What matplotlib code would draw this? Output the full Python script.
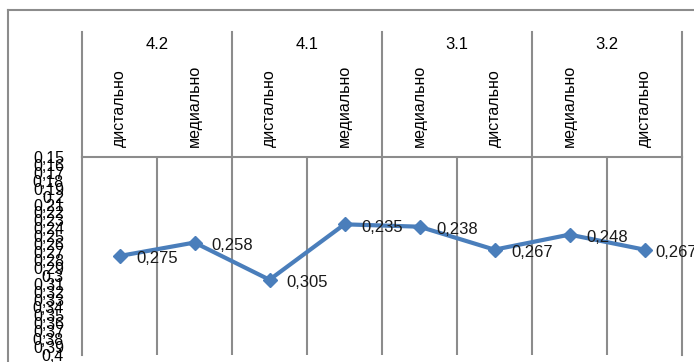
import matplotlib.pyplot as plt
from matplotlib.lines import Line2D
import numpy as np

# значения по позициям (ось Y перевёрнута)
groups = ["4.2", "4.1", "3.1", "3.2"]
sides = ["дистально", "медиально", "дистально", "медиально",
         "медиально", "дистально", "медиально", "дистально"]
values = [0.275, 0.258, 0.305, 0.235, 0.238, 0.267, 0.248, 0.267]
y_ticks = [round(0.15 + 0.01 * i, 2) for i in range(26)]

W, H = 694, 362
grid_color = "#8c8c8c"
line_color = "#4a7ebb"
plt.rcParams['font.family'] = ['Liberation Sans', 'DejaVu Sans']

fig = plt.figure(figsize=(W / 100, H / 100), dpi=100)


def box(x0, y0, x1, y1):
    return [x0 / W, 1 - y1 / H, (x1 - x0) / W, (y1 - y0) / H]


ax = fig.add_axes(box(82, 157, 682, 355))
hdr = fig.add_axes(box(82, 32, 682, 157))

n = len(values)
xs = np.arange(n)

ax.plot(xs, values, color=line_color, lw=3, marker="D", ms=7.5, zorder=3)
for x, v in zip(xs, values):
    # последнюю подпись прижимаем ближе к точке, чтобы она не уходила за край
    dx = 8 if x == n - 1 else 12
    ax.annotate(f"{v:.3f}".replace(".", ","), (x, v), xytext=(dx, -2),
                textcoords="offset points", ha="left", va="center",
                fontsize=12, color="#1a1a1a", annotation_clip=False)

ax.set_xlim(-0.5, n - 0.5)
ax.set_ylim(0.4, 0.15)
ax.set_xticks([])
ax.set_yticks(y_ticks)
ax.set_yticklabels([f"{t:g}".replace(".", ",") for t in y_ticks], fontsize=11.5)
ax.tick_params(axis="y", length=0, pad=13)
for b in np.arange(0.5, n - 1, 1):
    ax.axvline(b, color=grid_color, lw=1.5, zorder=1)
for s in ["left", "right", "top"]:
    ax.spines[s].set_color(grid_color)
    ax.spines[s].set_linewidth(1.5)
ax.spines["bottom"].set_visible(False)

# шапка: группы зубов и подписи сторон
hdr.set_xlim(-0.5, n - 0.5)
hdr.set_ylim(0, 1)
hdr.axis("off")
for b in np.arange(-0.5, n + 0.5, 2):
    hdr.plot([b, b], [0, 1], color=grid_color, lw=1.5, clip_on=False)
for i, g in enumerate(groups):
    hdr.text(2 * i + 0.5, 0.9, g, ha="center", va="center", fontsize=12)
for x, s in zip(xs, sides):
    hdr.text(x, 0.08, s, rotation=90, ha="center", va="bottom", fontsize=11.5)

# внешняя рамка
fig.add_artist(Line2D([8 / W, 1], [1 - 10 / H, 1 - 10 / H], color=grid_color, lw=1.5))
fig.add_artist(Line2D([8 / W, 8 / W], [0, 1 - 10 / H], color=grid_color, lw=1.5))

fig.savefig("out.png", dpi=100)
